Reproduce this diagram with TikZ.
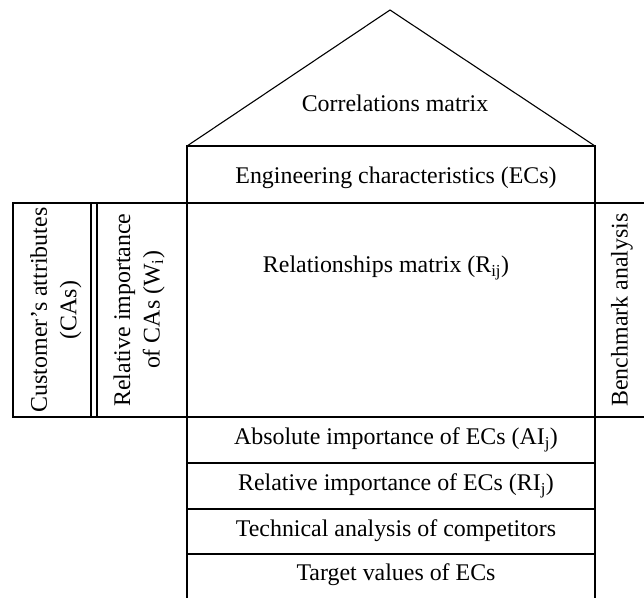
\documentclass[tikz,border=0pt]{standalone}
\usepackage{fontspec}
\setmainfont{Liberation Serif}
\begin{document}
\begin{tikzpicture}[x=1pt,y=-1pt,
  frame/.style={line width=1.5pt,line cap=rect},
  thinline/.style={line width=1.1pt},
  label/.style={inner sep=0pt,font=\fontsize{23.9}{29.5}\selectfont,align=center},
  vlabel/.style={label,rotate=90}]
\useasboundingbox (0,0) rectangle (644,597);
\clip (0,0) rectangle (644,597);

% roof: correlations matrix
\coordinate (roofL) at (187,146);
\coordinate (apex) at (390,10);
\coordinate (roofR) at (595,146);
\draw[thinline,line join=miter] (roofL) -- (apex) -- (roofR);
\node[label] (corr) at (395,103) {Correlations matrix};

% main column of the house
\draw[frame] (187,146) -- (187,610);
\draw[frame] (595,146) -- (595,610);
\draw[frame] (187,146) -- (595,146);
\draw[frame] (13,203) -- (660,203);
\draw[frame] (13,417) -- (660,417);
\draw[line width=2.3pt] (187,463) -- (595,463);
\draw[frame] (187,509) -- (595,509);
\draw[frame] (187,554) -- (595,554);

% left wing: customer attributes and their weights
\draw[frame] (13,203) -- (13,417);
\draw[frame] (91,203) -- (91,417);
\draw[frame] (97,203) -- (97,417);

% texts
\node[label] (ecs) at (396,178) {Engineering characteristics (ECs)};
\node[label] (rel) at (386,268) {Relationships matrix (R\textsubscript{ij})};
\node[vlabel] (cas) at (56,310) {Customer’s attributes\\(CAs)};
\node[vlabel] (wi) at (139,310) {Relative importance\\of CAs (W\textsubscript{i})};
\node[vlabel] (bench) at (622,310) {Benchmark analysis};
\node[label] (ai) at (396,440) {Absolute importance of ECs (AI\textsubscript{j})};
\node[label] (ri) at (396,486) {Relative importance of ECs (RI\textsubscript{j})};
\node[label] (tech) at (396,531) {Technical analysis of competitors};
\node[label] (target) at (396,575) {Target values of ECs};
\end{tikzpicture}
\end{document}
